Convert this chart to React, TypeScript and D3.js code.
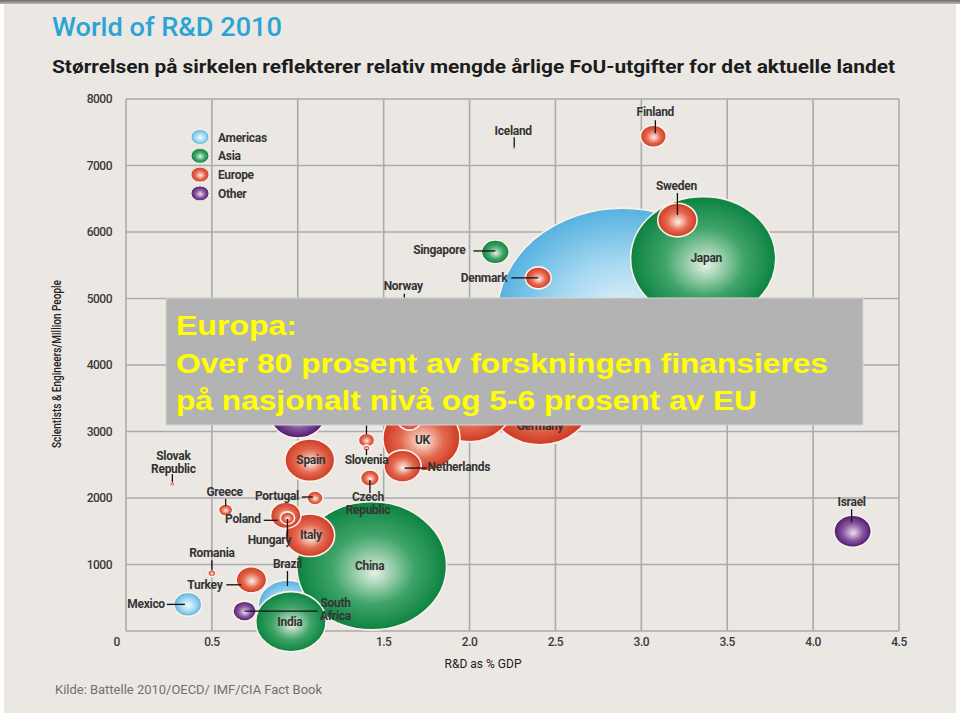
import React from 'react';
import * as d3 from 'd3';

// ---------- data ----------
const countries = [
  'USA', 'Japan', 'Germany', 'France', 'Brazil', 'China', 'India', 'UK', 'Ireland',
  'Russia', 'Norway', 'Italy', 'Spain', 'Netherlands', 'Sweden', 'Israel', 'Poland',
  'Turkey', 'Mexico', 'Singapore', 'Finland', 'Denmark', 'South Africa', 'Czech Republic',
  'Estonia', 'Portugal', 'Greece', 'Hungary', 'Romania', 'Slovenia', 'Slovak Republic', 'Iceland',
];
const regions = [
  'Americas', 'Asia', 'Europe', 'Europe', 'Americas', 'Asia', 'Asia', 'Europe', 'Europe',
  'Other', 'Europe', 'Europe', 'Europe', 'Europe', 'Europe', 'Other', 'Europe',
  'Europe', 'Americas', 'Asia', 'Europe', 'Europe', 'Other', 'Europe',
  'Europe', 'Europe', 'Europe', 'Europe', 'Europe', 'Europe', 'Europe', 'Europe',
];
// R&D as % of GDP
const rdShare = [
  2.89, 3.36, 2.41, 2.0, 0.94, 1.43, 0.96, 1.72, 1.65,
  1.0, 1.62, 1.07, 1.07, 1.61, 3.21, 4.23, 0.93,
  0.73, 0.36, 2.15, 3.07, 2.4, 0.69, 1.42,
  1.4, 1.1, 0.58, 0.94, 0.5, 1.4, 0.27, 2.26,
];
// Scientists & engineers per million people
const scientists = [
  4750, 5600, 3460, 3400, 390, 980, 140, 2900, 3170,
  3260, 4680, 1440, 2570, 2480, 6180, 1500, 1740,
  770, 400, 5700, 7440, 5310, 300, 2300,
  2870, 2000, 1820, 1700, 870, 2750, 2210, 7260,
];
// Relative annual R&D spending (bubble size, USD bn)
const spend = [
  405, 136, 68, 48, 22, 145, 32, 38.5, 3.5,
  20, 5, 16, 16, 9, 10, 9, 6,
  6, 5, 5, 4.3, 4.3, 3.5, 2.3,
  1.7, 1.7, 1.3, 1.3, 0.43, 0.32, 0.14, 0.05,
];

const legendRegions = ['Americas', 'Asia', 'Europe', 'Other'];
const xTicks = [0.5, 1.0, 1.5, 2.0, 2.5, 3.0, 3.5, 4.0, 4.5];
const yTicks = [1000, 2000, 3000, 4000, 5000, 6000, 7000, 8000];
const xGrid = [0, 0.5, 1.0, 1.5, 2.0, 2.5, 3.0, 3.5, 4.0, 4.5];
const yGrid = [0, 1000, 2000, 3000, 4000, 5000, 6000, 7000, 8000];

const titleText = 'World of R&D 2010';
const subtitleText = 'Størrelsen på sirkelen reflekterer relativ mengde årlige FoU-utgifter for det aktuelle landet';
const yAxisTitle = 'Scientists & Engineers/Million People';
const xAxisTitle = 'R&D as % GDP';
const sourceText = 'Kilde: Battelle 2010/OECD/ IMF/CIA Fact Book';
const overlayLines = [
  'Europa:',
  'Over 80 prosent av forskningen finansieres',
  'på nasjonalt nivå og 5-6 prosent av EU',
];

// ---------- label layout (offsets relative to bubble centre) ----------
type Lbl = { lines: string[]; dx: number; dy: number; anchor: 'start' | 'middle' | 'end'; leader?: [number, number, number, number] };
const labelLayout: Record<string, Lbl> = {
  Finland: { lines: ['Finland'], dx: 2, dy: -20, anchor: 'middle', leader: [2, -16, 2, -3] },
  Iceland: { lines: ['Iceland'], dx: -1, dy: -13, anchor: 'middle', leader: [0, -11, 0, -1] },
  Sweden: { lines: ['Sweden'], dx: -1, dy: -30, anchor: 'middle', leader: [0, -27, 0, -5] },
  Singapore: { lines: ['Singapore'], dx: -30, dy: 2, anchor: 'end', leader: [-22, -1, 0, -1] },
  Denmark: { lines: ['Denmark'], dx: -31, dy: 4, anchor: 'end', leader: [-27, 0, 0, 0] },
  Norway: { lines: ['Norway'], dx: -1, dy: -30, anchor: 'middle', leader: [0, -26, 0, -10] },
  Japan: { lines: ['Japan'], dx: 3, dy: 3, anchor: 'middle' },
  'Slovak Republic': { lines: ['Slovak', 'Republic'], dx: 1, dy: -24, anchor: 'middle', leader: [0, -10, 0, -2] },
  Greece: { lines: ['Greece'], dx: -1, dy: -14, anchor: 'middle', leader: [0, -11, 0, -4] },
  Portugal: { lines: ['Portugal'], dx: -16, dy: 2, anchor: 'end', leader: [-13, -1, -2, -1] },
  Poland: { lines: ['Poland'], dx: -25, dy: 8, anchor: 'end', leader: [-22, 5, -8, 5] },
  Hungary: { lines: ['Hungary'], dx: -18, dy: 26, anchor: 'middle', leader: [0, 1, 0, 24] },
  Italy: { lines: ['Italy'], dx: 1, dy: 4, anchor: 'middle' },
  Spain: { lines: ['Spain'], dx: 1, dy: 4, anchor: 'middle' },
  Romania: { lines: ['Romania'], dx: 0, dy: -16, anchor: 'middle', leader: [0, -13, 0, -3] },
  Turkey: { lines: ['Turkey'], dx: -29, dy: 9, anchor: 'end', leader: [-25, 5, -10, 5] },
  Mexico: { lines: ['Mexico'], dx: -23, dy: 4, anchor: 'end', leader: [-21, 0, -3, 0] },
  Brazil: { lines: ['Brazil'], dx: 0, dy: -37, anchor: 'middle', leader: [0, -34, 0, -19] },
  India: { lines: ['India'], dx: -1, dy: 4, anchor: 'middle' },
  'South Africa': { lines: ['South', 'Africa'], dx: 91, dy: -4, anchor: 'middle', leader: [0, 0, 73, 0] },
  China: { lines: ['China'], dx: -2, dy: 4, anchor: 'middle' },
  'Czech Republic': { lines: ['Czech', 'Republic'], dx: -2, dy: 23, anchor: 'middle', leader: [0, 2, 0, 15] },
  Slovenia: { lines: ['Slovenia'], dx: 0, dy: 16, anchor: 'middle', leader: [0, 1, 0, 7] },
  Estonia: { lines: [], dx: 0, dy: 0, anchor: 'middle', leader: [0, -15, 0, -6] },
  Netherlands: { lines: ['Netherlands'], dx: 25, dy: 5, anchor: 'start', leader: [2, 2, 24, 2] },
  UK: { lines: ['UK'], dx: 1, dy: 6, anchor: 'middle' },
  Germany: { lines: ['Germany'], dx: 0, dy: 29, anchor: 'middle' },
  Israel: { lines: ['Israel'], dx: -1, dy: -25, anchor: 'middle', leader: [-1, -22, -1, -9] },
};

const palette: Record<string, [string, string, string]> = {
  Americas: ['#F3FAFE', '#A6D8F1', '#56B2E0'],
  Asia: ['#E2F0E4', '#3FA468', '#0C8341'],
  Europe: ['#FDF0EB', '#E46A50', '#CD3A23'],
  Other: ['#EADFF0', '#87559F', '#4E1A6C'],
};

const sans = "Roboto, 'Liberation Sans', sans-serif";

export default function App() {
  const W = 960;
  const H = 717;
  const x = d3.scaleLinear().domain([0, 4.5]).range([126, 899]);
  const y = d3.scaleLinear().domain([0, 8000]).range([631, 99]);
  const ry = d3.scaleSqrt().domain([0, 405]).range([0, 107]);
  const aspect = 1.17;

  const points = countries.map((name, i) => ({
    name,
    region: regions[i],
    cx: x(rdShare[i]),
    cy: y(scientists[i]),
    ry: ry(spend[i]),
    rx: ry(spend[i]) * aspect,
  }));

  const gridColor = '#ABABAB';
  const labelColor = '#343434';

  return (
    <svg width={W} height={H} style={{ position: 'absolute', left: 0, top: 0, display: 'block' }}>
      <defs>
        {legendRegions.map((r) => (
          <radialGradient key={r} id={`g-${r}`} cx="50%" cy="50%" r="50%" fx="52%" fy="56%">
            <stop offset="0%" stopColor={palette[r][0]} />
            <stop offset="55%" stopColor={palette[r][1]} />
            <stop offset="100%" stopColor={palette[r][2]} />
          </radialGradient>
        ))}
        <linearGradient id="topband" x1="0" y1="0" x2="0" y2="1">
          <stop offset="0%" stopColor="#6a6a6a" />
          <stop offset="100%" stopColor="#b9b9b9" />
        </linearGradient>
      </defs>

      {/* page frame */}
      <rect x={0} y={0} width={W} height={H} fill="#ffffff" />
      <rect x={4} y={0} width={W - 8} height={H - 4} fill="#EBE8E3" />
      <rect x={0} y={0} width={W} height={4} fill="url(#topband)" />

      {/* titles */}
      <text x={52} y={36} fill="#2AA4D5" fontSize={25} fontWeight={500} fontFamily={sans} textLength={230} lengthAdjust="spacingAndGlyphs">
        {titleText}
      </text>
      <text x={52} y={73} fill="#1c1c1c" fontSize={18} fontWeight="bold" fontFamily={sans} textLength={843} lengthAdjust="spacingAndGlyphs">
        {subtitleText}
      </text>

      {/* grid */}
      {xGrid.map((v) => (
        <line key={`vx${v}`} x1={x(v)} x2={x(v)} y1={y(0)} y2={y(8000)} stroke={gridColor} strokeWidth={1.6} />
      ))}
      {yGrid.map((v) => (
        <line key={`hy${v}`} x1={x(0)} x2={x(4.5)} y1={y(v)} y2={y(v)} stroke={gridColor} strokeWidth={1.6} />
      ))}

      {/* axis tick labels */}
      {yTicks.map((v) => (
        <text key={`yt${v}`} x={112} y={y(v) + 4} textAnchor="end" fontSize={12} fontWeight={500} fill="#3a3a3a" fontFamily={sans} letterSpacing={-0.5}>
          {v}
        </text>
      ))}
      <text x={117} y={646} textAnchor="middle" fontSize={12} fontWeight={500} fill="#3a3a3a" fontFamily={sans}>0</text>
      {xTicks.map((v) => (
        <text key={`xt${v}`} x={x(v)} y={646} textAnchor="middle" fontSize={12} fontWeight={500} fill="#3a3a3a" fontFamily={sans} letterSpacing={-0.5}>
          {v.toFixed(1)}
        </text>
      ))}

      {/* axis titles */}
      <text
        transform="translate(61,364) rotate(-90)"
        textAnchor="middle"
        fontSize={12}
        fontWeight={500}
        fill="#222"
        fontFamily={sans}
        textLength={168}
        lengthAdjust="spacingAndGlyphs"
      >
        {yAxisTitle}
      </text>
      <text x={483} y={668} textAnchor="middle" fontSize={12} fill="#222" fontFamily={sans} textLength={77} lengthAdjust="spacingAndGlyphs">
        {xAxisTitle}
      </text>
      <text x={55} y={694} fontSize={12.5} fill="#707070" fontFamily={sans} textLength={267} lengthAdjust="spacingAndGlyphs">
        {sourceText}
      </text>

      {/* legend */}
      {legendRegions.map((r, i) => (
        <g key={`lg${r}`}>
          <ellipse cx={200} cy={137 + i * 18.8} rx={9} ry={7.5} fill={`url(#g-${r})`} stroke="#F7EFEA" strokeWidth={1} />
          <text x={218} y={141.5 + i * 18.8} fontSize={12} fontWeight="bold" fill={labelColor} fontFamily={sans} letterSpacing={-0.3}>
            {r}
          </text>
        </g>
      ))}

      {/* bubbles */}
      {points.map((p) => (
        <ellipse
          key={`b${p.name}`}
          cx={p.cx}
          cy={p.cy}
          rx={p.rx}
          ry={p.ry}
          fill={`url(#g-${p.region})`}
          stroke="#FBF1EC"
          strokeWidth={p.ry > 3 ? 1.6 : 0.8}
        />
      ))}

      {/* leaders */}
      {points.map((p) => {
        const l = labelLayout[p.name];
        if (!l || !l.leader) return null;
        const [a, b, c, d] = l.leader;
        return <line key={`l${p.name}`} x1={p.cx + a} y1={p.cy + b} x2={p.cx + c} y2={p.cy + d} stroke="#111" strokeWidth={1.3} />;
      })}

      {/* labels */}
      {points.map((p) => {
        const l = labelLayout[p.name];
        if (!l || l.lines.length === 0) return null;
        return (
          <text
            key={`t${p.name}`}
            x={p.cx + l.dx}
            y={p.cy + l.dy}
            textAnchor={l.anchor}
            fontSize={12}
            fontWeight="bold"
            fill={labelColor}
            fontFamily={sans}
            letterSpacing={-0.3}
          >
            {l.lines.map((s, k) => (
              <tspan key={k} x={p.cx + l.dx} dy={k === 0 ? 0 : 12.5}>
                {s}
              </tspan>
            ))}
          </text>
        );
      })}

      {/* overlay note */}
      <rect x={166} y={298} width={697} height={127} fill="#B3B3B3" stroke="#D4D4D4" strokeWidth={1} />
      {overlayLines.map((s, i) => (
        <text
          key={`ov${i}`}
          x={176}
          y={335 + i * 37.5}
          fontSize={27}
          fontWeight="bold"
          fill="#FFFF00"
          fontFamily="'Liberation Sans', Arial, sans-serif"
          textLength={[121, 652, 581][i]}
          lengthAdjust="spacingAndGlyphs"
        >
          {s}
        </text>
      ))}
    </svg>
  );
}
